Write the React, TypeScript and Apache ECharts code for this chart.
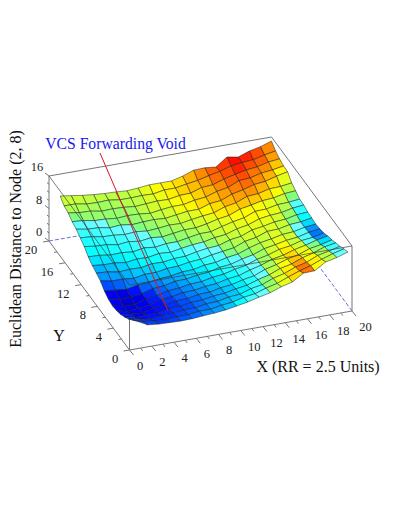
import React, { useEffect, useRef } from "react";
import * as echarts from "echarts";

const xValues = [1,2,3,4,5,6,7,8,9,10,11,12,13,14,15,16,17,18,19,20];
// Rows from the back (Y = 20) to the front (Y = 1)
const yValues = [20,19,18,17,16,15,14,13,12,11,10,9,8,7,6,5,4,3,2,1];
const heightRows = [
  [10.6,10.2,9.8,9.5,9.3,9.2,9.0,9.2,9.5,9.5,9.5,10.2,11.2,11.3,11.0,13.0,12.5,13.5,14.1,15.0],
  [9.5,9.5,9.0,8.9,9.0,8.6,8.6,8.7,8.6,9.1,9.1,9.6,10.0,10.7,11.3,12.1,12.5,12.7,13.4,13.9],
  [9.1,8.7,8.6,8.1,8.2,8.1,7.8,8.0,8.2,8.1,8.6,8.7,9.6,9.8,10.7,11.4,12.0,12.3,13.0,13.3],
  [8.3,8.1,7.6,7.5,7.2,7.4,7.3,7.0,7.4,7.7,7.7,8.3,8.6,9.5,10.0,11.2,11.4,12.1,12.4,12.9],
  [7.8,7.3,7.2,6.7,6.9,6.5,6.7,6.8,6.6,7.0,7.4,7.4,8.3,8.6,9.7,10.3,11.1,11.4,12.2,12.8],
  [7.0,6.8,6.3,6.2,5.9,6.1,5.8,6.0,6.3,6.2,6.7,7.1,7.4,8.4,8.9,10.0,10.2,10.9,11.0,11.4],
  [6.2,5.8,5.7,5.2,5.5,5.1,5.5,5.2,5.6,6.0,6.0,6.5,7.2,7.6,8.7,9.2,9.8,10.0,10.6,10.8],
  [5.0,4.9,4.5,4.6,4.3,4.8,4.5,4.9,4.9,5.4,5.9,5.9,6.7,7.4,7.9,9.0,9.1,9.7,9.8,10.1],
  [4.2,3.9,3.9,3.5,3.9,3.8,4.3,4.1,4.6,5.0,5.2,5.8,6.1,7.0,7.5,8.5,8.9,9.1,9.7,10.0],
  [3.7,3.5,3.0,3.2,3.1,3.6,3.5,3.9,4.0,4.6,5.0,5.2,6.1,6.5,7.6,8.0,8.6,8.8,9.4,9.6],
  [3.1,2.6,2.6,2.3,2.8,2.8,3.3,3.4,3.9,4.1,4.7,5.1,5.5,6.6,7.1,8.1,8.2,8.8,9.0,9.5],
  [2.0,1.7,1.4,2.0,2.1,2.6,2.8,3.3,3.4,4.0,4.2,4.9,5.3,6.3,7.1,7.6,8.2,8.4,9.0,9.3],
  [1.3,0.7,0.9,1.2,2.0,2.2,2.8,2.9,3.4,3.6,4.3,4.6,5.4,6.0,7.0,7.5,8.1,8.4,9.1,9.5],
  [1.0,0.4,0.4,1.3,1.6,2.3,2.5,3.0,3.1,3.7,4.0,4.7,5.2,6.2,6.8,7.7,8.1,8.9,9.2,9.8],
  [1.2,0.5,0.8,1.2,1.9,2.2,2.7,2.8,3.3,3.5,4.2,4.5,5.4,6.1,7.1,7.6,8.5,9.1,9.9,10.4],
  [1.6,1.2,1.0,1.7,1.9,2.5,2.6,3.1,3.2,3.8,4.1,4.8,5.3,6.4,7.1,8.0,8.6,9.6,10.1,10.8],
  [2.3,1.7,1.8,1.9,2.4,2.5,3.0,3.1,3.6,3.8,4.4,4.8,5.7,6.4,7.5,8.1,9.2,9.9,10.9,11.4],
  [3.1,2.6,2.2,2.6,2.6,3.0,3.0,3.5,3.6,4.2,4.4,5.3,5.8,6.9,7.6,8.7,9.4,10.6,11.2,11.9],
  [4.2,3.3,3.0,2.9,3.1,3.1,3.5,3.5,4.0,4.3,5.0,5.4,6.3,7.0,8.1,9.1,9.9,11.0,11.9,12.6],
  [5.3,3.9,3.6,3.5,3.4,3.5,3.7,3.9,4.2,4.7,5.2,5.9,6.5,7.5,8.2,9.9,10.0,11.7,12.3,13.2],
];
// Colour level of each cell (0 dark blue ... 87 red), rows from back to front
const colourRows = [
  [57,57,56,56,56,56,57,60,62,64,66,70,74,78,82,86,84,80,74],
  [55,54,54,53,54,55,56,59,61,64,67,69,72,77,80,84,80,78,72],
  [50,52,52,52,52,53,56,58,60,62,64,67,70,74,78,80,76,74,68],
  [46,47,49,50,51,52,54,56,58,61,63,66,69,72,75,77,74,70,63],
  [43,44,45,47,49,50,52,54,56,58,60,63,66,70,72,73,70,66,60],
  [40,41,43,44,46,48,50,52,54,56,58,60,64,66,68,68,66,62,56],
  [38,39,40,41,43,45,47,50,52,54,56,58,60,62,63,62,60,57,50],
  [35,35,36,38,40,42,44,47,50,52,54,57,59,60,62,62,60,55,46],
  [30,31,33,35,37,39,41,43,46,49,52,55,57,59,60,60,58,52,42],
  [27,28,30,32,33,35,37,39,42,46,49,52,55,58,59,59,57,50,38],
  [20,22,25,28,30,31,33,36,39,43,46,50,53,55,57,59,56,48,34],
  [12,10,14,22,25,28,30,33,36,39,43,47,50,54,57,60,58,46,27],
  [11,8,10,16,22,25,28,31,34,37,41,45,49,53,58,62,57,45,24],
  [12,9,11,15,20,23,26,29,32,35,39,43,48,53,59,64,58,46,27],
  [14,11,12,14,18,22,25,27,30,33,37,42,47,54,60,66,60,50,34],
  [15,12,13,14,17,20,23,26,29,32,36,41,48,56,62,68,62,52,40],
  [17,14,14,16,18,20,23,26,29,32,36,42,50,58,64,72,62,54,44],
  [19,17,16,17,19,21,24,27,30,33,38,44,52,60,66,76,64,56,46],
  [20,19,18,19,21,23,26,28,32,38,44,48,54,60,66,76,62,56,48],
];
const xTickLabels = [0,2,4,6,8,10,12,14,16,18,20];
const yTickLabels = [0,4,8,12,16,20];
const zTickLabels = [0,8,16];
const xMinorTicks = [1,3,5,7,9,11,13,15,17,19];
const yMinorTicks = [2,6,10,14,18];
const zMinorTicks = [2,4,6,10,12,14];
const AX_MAX = 20, Z_MAX = 16;

const zTitle = "Euclidean Distance to Node (2, 8)";
const xTitle = "X (RR = 2.5 Units)";
const yTitle = "Y";
const noteText = "VCS Forwarding Void";

// plane coordinates of the annotation leader
const leader = [[100, 153], [168, 311]];

const W = 399, H = 516;
// orthographic projection of the box onto the page plane
const project = (x: number, y: number, z: number): number[] => [
  129.5 + x * 11.125 - y * 4.025,
  350 - x * 1.95 - y * 5.45 - z * 4.0625,
];

function jet(level: number): string {
  const c = level / 100;
  const ch = (t: number) => Math.round(255 * Math.max(0, Math.min(1, t)));
  const r = 4 * c - 1.5, g = c < 0.5 ? 4 * c - 0.5 : 3.5 - 4 * c, b = c < 0.5 ? 4 * c + 0.5 : 2.5 - 4 * c;
  return `rgb(${ch(r)},${ch(g)},${ch(b)})`;
}

type Seg = { a: number[]; b: number[]; color: string; width: number; dash?: number[] };
const GREY = "#777777";
const DASH = "#6f6fd0";

const P = (x: number, y: number, z: number) => project(x, y, z);
const backSegs: Seg[] = [
  { a: P(0, AX_MAX, 0), b: P(AX_MAX, AX_MAX, 0), color: DASH, width: 1, dash: [4, 2] },
  { a: P(AX_MAX, 0, 0), b: P(AX_MAX, AX_MAX, 0), color: DASH, width: 1, dash: [4, 2] },
  { a: P(0, 0, 0), b: P(AX_MAX, 0, 0), color: GREY, width: 1 },
  { a: P(0, 0, 0), b: P(0, AX_MAX, 0), color: GREY, width: 1 },
  { a: P(0, 0, 0), b: P(0, 0, Z_MAX), color: GREY, width: 1 },
  { a: P(0, AX_MAX, 0), b: P(0, AX_MAX, Z_MAX), color: GREY, width: 1 },
  { a: P(AX_MAX, 0, 0), b: P(AX_MAX, 0, Z_MAX), color: GREY, width: 1 },
  { a: P(0, AX_MAX, Z_MAX), b: P(AX_MAX, AX_MAX, Z_MAX), color: GREY, width: 1 },
  { a: P(AX_MAX, AX_MAX, Z_MAX), b: P(AX_MAX, 0, Z_MAX), color: GREY, width: 1 },
];
const tick = (base: number[], dx: number, dy: number): Seg => ({
  a: base, b: [base[0] + dx, base[1] + dy], color: GREY, width: 1,
});
xTickLabels.forEach((v) => backSegs.push(tick(P(v, 0, 0), 4, 5)));
xMinorTicks.forEach((v) => backSegs.push(tick(P(v, 0, 0), 2, 2.7)));
yTickLabels.forEach((v) => backSegs.push(tick(P(0, v, 0), -6, 1)));
yMinorTicks.forEach((v) => backSegs.push(tick(P(0, v, 0), -3, 0.5)));
zTickLabels.forEach((v) => backSegs.push(tick(P(0, AX_MAX, v), -4, -3)));
zMinorTicks.forEach((v) => backSegs.push(tick(P(0, AX_MAX, v), -2, -1.5)));

const frontSegs: Seg[] = [
  { a: P(0, 0, Z_MAX), b: P(0, AX_MAX, Z_MAX), color: "rgba(60,60,60,0.75)", width: 0.9 },
  { a: P(0, 0, Z_MAX), b: P(AX_MAX, 0, Z_MAX), color: "rgba(60,60,60,0.75)", width: 0.9 },
  { a: leader[0], b: leader[1], color: "#e0102a", width: 1 },
];

type Txt = { t: string | number; p: number[]; font: string; color: string; rot?: number };
const TICK_FONT = '12.5px "Liberation Serif"';
const TITLE_FONT = '16px "Liberation Serif"';
const texts: Txt[] = [];
xTickLabels.forEach((v) => {
  const p = P(v, 0, 0);
  const off = v >= 10 ? 13.5 : 10.5;
  texts.push({ t: v, p: [p[0] + off, p[1] + 16], font: TICK_FONT, color: "#222" });
});
yTickLabels.forEach((v) => {
  const p = P(0, v, 0);
  const off = v >= 12 ? -18 : -14.5;
  texts.push({ t: v, p: [p[0] + off, p[1] + 9], font: TICK_FONT, color: "#222" });
});
zTickLabels.forEach((v) => {
  const p = P(0, AX_MAX, v);
  const off = v >= 10 ? -12 : -10;
  texts.push({ t: v, p: [p[0] + off, p[1] - 9], font: TICK_FONT, color: "#222" });
});
texts.push({ t: zTitle, p: [15, 239], font: TITLE_FONT, color: "#111", rot: Math.PI / 2 });
texts.push({ t: xTitle, p: [318, 366], font: TITLE_FONT, color: "#111" });
texts.push({ t: yTitle, p: [59, 335], font: TITLE_FONT, color: "#111" });
texts.push({ t: noteText, p: [115.5, 143], font: '15.7px "Liberation Serif"', color: "#1a1aee" });

// back-to-front list of cells
const cells: number[][] = [];
for (let r = 0; r < yValues.length - 1; r++) {
  for (let c = xValues.length - 2; c >= 0; c--) cells.push([c, r]);
}

const renderSegs = (segs: Seg[]) => (params: any, api: any) => {
  const s = segs[params.dataIndex];
  const a = api.coord(s.a), b = api.coord(s.b);
  return {
    type: "line",
    shape: { x1: a[0], y1: a[1], x2: b[0], y2: b[1] },
    style: { stroke: s.color, lineWidth: s.width, lineDash: s.dash, fill: "none" },
  };
};

const renderCell = (params: any, api: any) => {
  const c = api.value(0) as number, r = api.value(1) as number;
  const corner = (cc: number, rr: number) =>
    api.coord(project(xValues[cc], yValues[rr], heightRows[rr][cc]));
  const fill = jet(colourRows[r][c]);
  return {
    type: "polygon",
    shape: { points: [corner(c, r), corner(c + 1, r), corner(c + 1, r + 1), corner(c, r + 1)] },
    style: { fill, stroke: "rgba(25,25,25,0.72)", lineWidth: 0.7 },
  };
};

const renderText = (params: any, api: any) => {
  const tx = texts[params.dataIndex];
  const p = api.coord(tx.p);
  return {
    type: "text",
    x: p[0],
    y: p[1],
    rotation: tx.rot || 0,
    style: { text: String(tx.t), x: 0, y: 0, align: "center", verticalAlign: "middle", font: tx.font, fill: tx.color },
  };
};

export default function App() {
  const ref = useRef<HTMLDivElement>(null);
  useEffect(() => {
    document.body.style.margin = "0";
    const chart = echarts.init(ref.current!, undefined, { renderer: "svg" });
    chart.setOption({
      animation: false,
      backgroundColor: "#fff",
      grid: { left: 0, right: 0, top: 0, bottom: 0 },
      xAxis: { type: "value", min: 0, max: W, show: false },
      yAxis: { type: "value", min: 0, max: H, inverse: true, show: false },
      tooltip: { show: false },
      series: [
        { type: "custom", clip: false, silent: true, renderItem: renderSegs(backSegs), data: backSegs.map((_, i) => [i, 0]) },
        { type: "custom", clip: false, silent: true, renderItem: renderCell, data: cells },
        { type: "custom", clip: false, silent: true, renderItem: renderSegs(frontSegs), data: frontSegs.map((_, i) => [i, 0]) },
        { type: "custom", clip: false, silent: true, renderItem: renderText, data: texts.map((_, i) => [i, 0]) },
      ],
    });
    return () => chart.dispose();
  }, []);
  return <div ref={ref} style={{ width: W, height: H }} />;
}
